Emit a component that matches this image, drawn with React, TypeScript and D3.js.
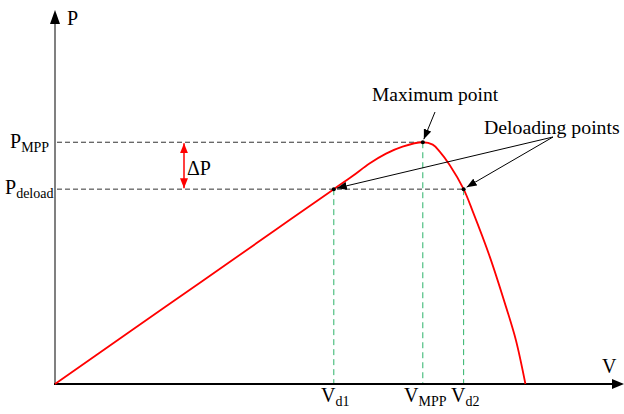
import React from "react";
import * as d3 from "d3";

// Normalized P-V curve (V / V_MPP, P / P_MPP)
const curveV = [0, 0.2, 0.4, 0.6, 0.758, 0.809, 0.855, 0.9, 0.945, 1.0, 1.027, 1.046, 1.073, 1.111, 1.136, 1.182, 1.226, 1.253, 1.279];
const curveP = [0, 0.213, 0.425, 0.638, 0.806, 0.86, 0.912, 0.953, 0.982, 1.0, 0.99, 0.961, 0.906, 0.806, 0.713, 0.527, 0.32, 0.182, 0];

const V_MPP = 1.0;
const P_MPP = 1.0;
const P_DELOAD = 0.806;
const V_D1 = 0.758;
const V_D2 = 1.111;
const AXIS_MAX_V = 1.547;
const AXIS_MAX_P = 1.547;

const W = 624;
const H = 414;

export default function App() {
  const x = d3.scaleLinear().domain([0, AXIS_MAX_V]).range([55, 624]);
  const y = d3.scaleLinear().domain([0, AXIS_MAX_P]).range([384, 10]);
  const pts: [number, number][] = curveV.map((v, i) => [v, curveP[i]]);
  const line = d3
    .line<[number, number]>()
    .x((d) => x(d[0]))
    .y((d) => y(d[1]))
    .curve(d3.curveCatmullRom.alpha(0.5));

  const font = "'Liberation Serif', 'Times New Roman', serif";
  const x0 = x(0);
  const y0 = y(0);

  const vLines = [
    { v: V_D1, p: P_DELOAD },
    { v: V_MPP, p: P_MPP },
    { v: V_D2, p: P_DELOAD },
  ];

  return (
    <svg
      width={W}
      height={H}
      viewBox={`0 0 ${W} ${H}`}
      style={{ position: "absolute", left: 0, top: 0, background: "#fff" }}
      fontFamily={font}
    >
      <defs>
        <marker id="ah" viewBox="0 0 10 8" refX="10" refY="4" markerWidth="10" markerHeight="8" markerUnits="userSpaceOnUse" orient="auto">
          <path d="M0,0 L10,4 L0,8 Z" fill="#000" />
        </marker>
        <marker id="rh" viewBox="0 0 10 8" refX="10" refY="4" markerWidth="10" markerHeight="8" markerUnits="userSpaceOnUse" orient="auto-start-reverse">
          <path d="M0,0 L10,4 L0,8 Z" fill="#ff0000" />
        </marker>
      </defs>

      {/* horizontal dashed lines */}
      <line x1={x0 + 2} x2={x(V_MPP)} y1={y(P_MPP)} y2={y(P_MPP)} stroke="#333" strokeWidth={1} strokeDasharray="5,3" />
      <line x1={x0 + 2} x2={x(V_D2)} y1={y(P_DELOAD)} y2={y(P_DELOAD)} stroke="#333" strokeWidth={1} strokeDasharray="5,3" />

      {/* vertical green dashed lines */}
      {vLines.map((d, i) => (
        <line key={i} x1={x(d.v)} x2={x(d.v)} y1={y(d.p)} y2={y0} stroke="#2db36a" strokeWidth={1} strokeDasharray="6,4" />
      ))}

      {/* axes */}
      <line x1={x0} x2={x0} y1={y0 + 1} y2={y(AXIS_MAX_P) + 12} stroke="#808080" strokeWidth={2} />
      <path d={`M${x0},${y(AXIS_MAX_P)} L${x0 - 5},${y(AXIS_MAX_P) + 14} L${x0 + 5},${y(AXIS_MAX_P) + 14} Z`} fill="#000" />
      <line x1={x0 - 1} x2={x(AXIS_MAX_V) - 12} y1={y0} y2={y0} stroke="#000" strokeWidth={2} />
      <path d={`M${x(AXIS_MAX_V)},${y0} L${x(AXIS_MAX_V) - 12},${y0 - 5} L${x(AXIS_MAX_V) - 12},${y0 + 5} Z`} fill="#000" />

      {/* curve */}
      <path d={line(pts) || ""} fill="none" stroke="#ff0000" strokeWidth={1.8} />

      {/* points */}
      {vLines.map((d, i) => (
        <circle key={i} cx={x(d.v)} cy={y(d.p)} r={2} fill="#000" />
      ))}

      {/* delta P arrow */}
      <line x1={184} x2={184} y1={y(P_MPP) + 1} y2={y(P_DELOAD) - 1} stroke="#ff0000" strokeWidth={1.5} markerStart="url(#rh)" markerEnd="url(#rh)" />
      <text x={187} y={175} fontSize={20} fill="#000">ΔP</text>

      {/* annotation arrows */}
      <line x1={435} y1={112} x2={x(V_MPP) + 1} y2={y(P_MPP) - 3} stroke="#000" strokeWidth={1} markerEnd="url(#ah)" />
      <line x1={553} y1={137} x2={x(V_D1) + 3} y2={y(P_DELOAD) - 1} stroke="#000" strokeWidth={1} markerEnd="url(#ah)" />
      <line x1={553} y1={137} x2={x(V_D2) + 3} y2={y(P_DELOAD) - 2} stroke="#000" strokeWidth={1} markerEnd="url(#ah)" />

      {/* labels */}
      <text x={372} y={101} fontSize={19.5} fill="#000">Maximum point</text>
      <text x={484} y={134} fontSize={19.8} fill="#000">Deloading points</text>

      <text x={67} y={25} fontSize={20} fill="#000">P</text>
      <text x={602} y={373} fontSize={20} fill="#000">V</text>

      <text x={10} y={148} fontSize={20} fill="#000">
        P<tspan fontSize={14} dy={4}>MPP</tspan>
      </text>
      <text x={5} y={194} fontSize={20} fill="#000">
        P<tspan fontSize={14} dy={4}>deload</tspan>
      </text>

      <text x={321} y={402} fontSize={20} fill="#000">
        V<tspan fontSize={14} dy={4}>d1</tspan>
      </text>
      <text x={404} y={402} fontSize={20} fill="#000">
        V<tspan fontSize={14} dy={4}>MPP</tspan>
      </text>
      <text x={451} y={402} fontSize={20} fill="#000">
        V<tspan fontSize={14} dy={4}>d2</tspan>
      </text>
    </svg>
  );
}
